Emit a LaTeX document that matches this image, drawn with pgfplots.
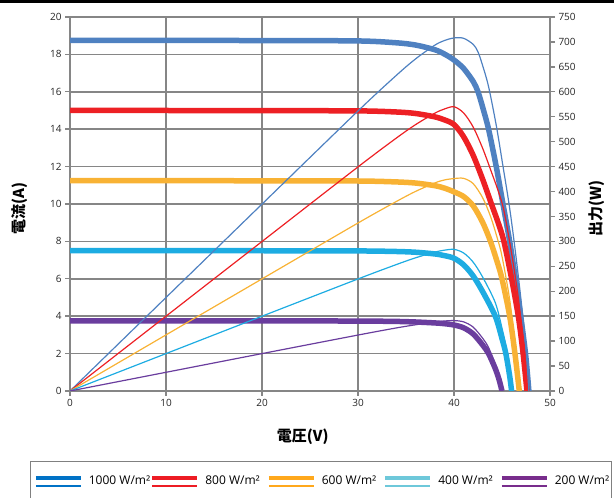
\documentclass[border=0pt]{standalone}
\usepackage{fontspec}
\setmainfont{Open Sans}
\newfontfamily\cjk{Noto Sans CJK JP}
\usepackage{pgfplots}
\usepackage{pgfplotstable}
\pgfplotsset{compat=1.18}

\definecolor{gridgray}{RGB}{134,134,134}
\definecolor{boxgray}{RGB}{128,128,128}
% chart colours
\definecolor{cA}{RGB}{79,129,193}
\definecolor{cB}{RGB}{237,32,36}
\definecolor{cC}{RGB}{248,178,52}
\definecolor{cD}{RGB}{29,172,226}
\definecolor{cE}{RGB}{106,61,158}
% legend colours
\definecolor{lA}{RGB}{0,114,198}
\definecolor{lB}{RGB}{237,28,36}
\definecolor{lC}{RGB}{255,168,28}
\definecolor{lD}{RGB}{110,200,218}
\definecolor{lE}{RGB}{120,45,140}

% V [V], I [A], P [W]
\pgfplotstableread{
V     I      P
0     18.75  0
10    18.75  187.5
20    18.74  374.8
30    18.72  561.6
34    18.62  633.1
36    18.50  666.0
38    18.25  693.5
39    18.02  702.8
40    17.70  708.0
41    17.25  707.3
42    16.55  695.1
42.5  16.00  680.0
43    15.15  651.5
43.6  14.00  610.4
44.4  12.00  532.8
45.1  10.00  451.0
45.8  8.00   366.4
46.4  6.00   278.4
46.95 4.00   187.8
47.45 2.00   94.9
47.8  0      0
}\tA
\pgfplotstableread{
V     I      P
0     15.00  0
10    15.00  150.0
20    14.99  299.8
30    14.98  449.4
34    14.92  507.3
36    14.84  534.2
38    14.66  557.1
39    14.50  565.5
40    14.25  570.0
41    13.60  557.6
42    12.60  529.2
43    11.30  485.9
43.9  10.00  439.0
44.6  9.00   401.4
45.2  8.00   361.6
46.0  6.00   276.0
46.7  4.00   186.8
47.2  2.00   94.4
47.6  0      0
}\tB
\pgfplotstableread{
V     I      P
0     11.25  0
10    11.25  112.5
20    11.24  224.8
30    11.23  336.9
34    11.18  380.1
36    11.12  400.3
38    10.98  417.2
39    10.85  423.2
40    10.65  426.0
41    10.40  426.4
42    9.90   415.8
43    9.00   387.0
43.8  8.00   350.4
44.5  6.90   307.1
45.0  6.00   270.0
45.8  4.00   183.2
46.35 2.00   92.7
46.8  0      0
}\tC
\pgfplotstableread{
V     I      P
0     7.50   0
10    7.50   75.0
20    7.50   150.0
30    7.49   224.7
34    7.46   253.6
36    7.42   267.1
38    7.33   278.5
39    7.24   282.4
40    7.10   284.0
41    6.75   276.8
42    6.15   258.3
43    5.30   227.9
44.3  4.00   177.2
45.0  2.80   126.0
45.4  2.00   90.8
45.8  0.80   36.6
46.0  0      0
}\tD
\pgfplotstableread{
V     I      P
0     3.75   0
10    3.75   37.5
20    3.75   75.0
30    3.74   112.2
34    3.72   126.5
36    3.69   132.8
38    3.64   138.3
39    3.60   140.4
40    3.53   141.2
41    3.38   138.6
42    3.05   128.1
43    2.45   105.4
43.6  2.00   87.2
44.3  1.20   53.2
44.7  0.60   26.8
45.0  0      0
}\tE

\pgfplotsset{
  panel/.style={
    at={(70bp,107bp)}, anchor=south west,
    scale only axis, width=480bp, height=374bp,
    xmin=0, xmax=50,
    axis line style={gridgray, line width=1.6bp},
    tick style={gridgray, line width=1.4bp},
    tick align=outside, major tick length=5bp,
    ticklabel style={font=\fontsize{10bp}{12bp}\selectfont, text=black!85},
    /pgf/number format/assume math mode=true,
    label style={font=\cjk\bfseries\fontsize{15bp}{18bp}\selectfont},
  },
  thick curve/.style={smooth, line width=5.5bp},
  thin curve/.style={smooth, line width=1.2bp},
  dbl/.style={legend image code/.code={
    \draw[#1, line width=4bp] (0bp,2.3bp) -- (45bp,2.3bp);
    \draw[#1, line width=1.7bp] (0bp,-5.3bp) -- (45bp,-5.3bp);}},
}

\begin{document}
\begin{tikzpicture}
\path[use as bounding box] (0bp,0bp) rectangle (614bp,498bp);
\fill[black] (0bp,495bp) rectangle (614bp,498bp);

\begin{axis}[panel,
  ymin=0, ymax=20,
  xtick={0,10,...,50}, ytick={0,2,...,20},
  xtick pos=left, ytick pos=left,
  grid=major, major grid style={gridgray, line width=1.6bp},
  xlabel={電圧(V)}, ylabel={電流(A)},
  xlabel style={at={(axis description cs:0.485,-0.123)}, anchor=center},
  ylabel style={at={(axis description cs:-0.104,0.489)}, anchor=center, rotate=0},
]
\addplot[thick curve, cA] table[x=V, y=I] {\tA};
\addplot[thick curve, cB] table[x=V, y=I] {\tB};
\addplot[thick curve, cC] table[x=V, y=I] {\tC};
\addplot[thick curve, cD] table[x=V, y=I] {\tD};
\addplot[thick curve, cE] table[x=V, y=I] {\tE};
\end{axis}

\begin{axis}[panel,
  ymin=0, ymax=750, ytick={0,50,...,750},
  axis x line=none, axis y line*=right,
  ylabel={出力(W)},
  ylabel style={at={(axis description cs:1.098,0.489)}, anchor=center, rotate=0},
  legend columns=5,
  legend style={at={(axis description cs:-0.0823,-0.1872)}, anchor=north west,
    draw=boxgray, line width=0.7bp, inner xsep=3bp, inner ysep=12.2bp,
    font=\fontsize{12bp}{14bp}\selectfont,
    column sep=0bp, /tikz/every odd column/.append style={column sep=4bp}},
]
\addplot[thin curve, cA, forget plot] table[x=V, y=P] {\tA};
\addplot[thin curve, cB, forget plot] table[x=V, y=P] {\tB};
\addplot[thin curve, cC, forget plot] table[x=V, y=P] {\tC};
\addplot[thin curve, cD, forget plot] table[x=V, y=P] {\tD};
\addplot[thin curve, cE, forget plot] table[x=V, y=P] {\tE};
\addlegendimage{dbl=lA}\addlegendentry{\makebox[59.5bp][l]{1000 W/m²}}
\addlegendimage{dbl=lB}\addlegendentry{\makebox[59.5bp][l]{800 W/m²}}
\addlegendimage{dbl=lC}\addlegendentry{\makebox[59.5bp][l]{600 W/m²}}
\addlegendimage{dbl=lD}\addlegendentry{\makebox[59.5bp][l]{400 W/m²}}
\addlegendimage{dbl=lE}\addlegendentry{\makebox[52bp][l]{200 W/m²}}
\end{axis}
\end{tikzpicture}
\end{document}
